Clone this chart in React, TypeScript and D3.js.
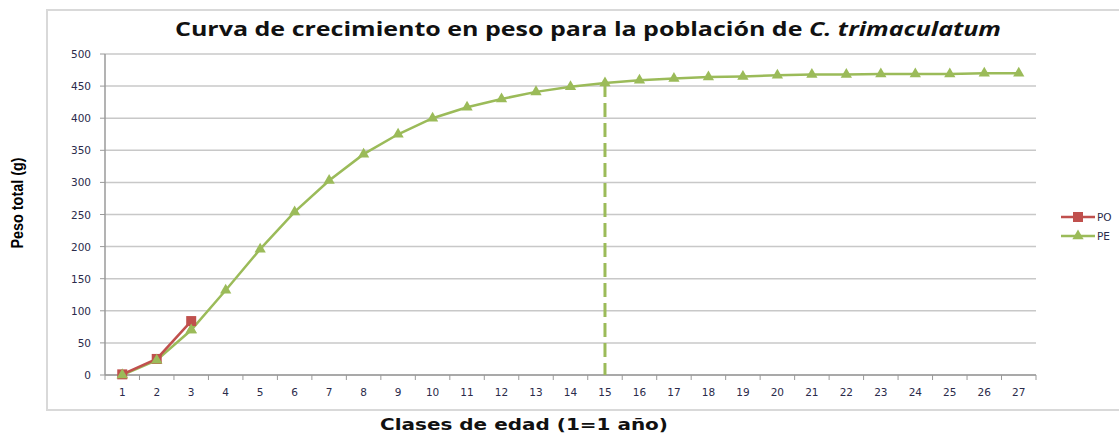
import React from "react";
import * as d3 from "d3";

const categories: number[] = Array.from({ length: 27 }, (_, i) => i + 1);
const poValues: number[] = [1, 25, 84];
const peValues: number[] = [0, 23, 70, 132, 196, 254, 303, 344, 375, 400, 417, 430, 441, 449, 455, 459, 462, 464, 465, 467, 468, 468, 469, 469, 469, 470, 470];
const yTicks: number[] = [0, 50, 100, 150, 200, 250, 300, 350, 400, 450, 500];
const markerCategory = 15;
const seriesNames = ["PO", "PE"];

const W = 1119, H = 434;
const plot = { left: 105, right: 1036, top: 54, bottom: 375 };
const RED = "#C0504D";
const GREEN = "#9BBB59";

export default function App() {
  const x = d3.scaleBand<number>().domain(categories).range([plot.left, plot.right]).padding(0);
  const cx = (c: number) => (x(c) as number) + x.bandwidth() / 2;
  const y = d3.scaleLinear().domain([0, 500]).range([plot.bottom, plot.top]);
  const line = d3.line<number>().x((_, i) => cx(categories[i])).y((d) => y(d));
  const tri = d3.symbol().type(d3.symbolTriangle).size(55)() as string;
  const tickFont = "'DejaVu Sans', sans-serif";
  const peAt15 = peValues[categories.indexOf(markerCategory)];

  return (
    <svg width={W} height={H} style={{ position: "absolute", left: 0, top: 0, background: "#fff" }}>
      <rect x={0} y={0} width={W} height={H} fill="#fff" />
      <path d={`M${W + 2},10 H47 V410 H${W + 2}`} fill="none" stroke="#D9D9D9" strokeWidth={2} />
      <text x={588} y={36} textAnchor="middle" fontFamily="'Open Sans', sans-serif" fontWeight="bold" fontSize={19} textLength={826} lengthAdjust="spacingAndGlyphs" fill="#111">
        Curva de crecimiento en peso para la población de <tspan fontStyle="italic">C. trimaculatum</tspan>
      </text>
      {yTicks.map((t) => (
        <line key={t} x1={plot.left} x2={plot.right} y1={y(t)} y2={y(t)} stroke="#C8C8C8" strokeWidth={1.5} />
      ))}
      <line x1={plot.left} x2={plot.left} y1={plot.top} y2={plot.bottom} stroke="#9A9A9A" strokeWidth={1.5} />
      {yTicks.map((t) => (
        <g key={t}>
          <line x1={plot.left - 5} x2={plot.left} y1={y(t)} y2={y(t)} stroke="#9A9A9A" />
          <text x={91} y={y(t) + 4} textAnchor="end" fontFamily={tickFont} fontSize={10.5} fill="#2B2B4B">{t}</text>
        </g>
      ))}
      <line x1={plot.left} x2={plot.right} y1={plot.bottom} y2={plot.bottom} stroke="#9A9A9A" strokeWidth={1.5} />
      {categories.map((c) => (
        <line key={"t" + c} x1={(x(c) as number) + x.bandwidth()} x2={(x(c) as number) + x.bandwidth()} y1={plot.bottom} y2={plot.bottom + 5} stroke="#9A9A9A" />
      ))}
      <line x1={plot.left} x2={plot.left} y1={plot.bottom} y2={plot.bottom + 5} stroke="#9A9A9A" />
      {categories.map((c) => (
        <text key={"l" + c} x={cx(c)} y={396} textAnchor="middle" fontFamily={tickFont} fontSize={10.5} fill="#2B2B4B">{c}</text>
      ))}
      <text transform="translate(23,203) rotate(-90)" textAnchor="middle" fontFamily="'Liberation Sans', Arial, sans-serif" fontWeight="bold" fontSize={17} textLength={91} lengthAdjust="spacingAndGlyphs" fill="#000">Peso total (g)</text>
      <text x={524} y={430} textAnchor="middle" fontFamily="'DejaVu Sans', sans-serif" fontWeight="bold" fontSize={15.5} textLength={288} lengthAdjust="spacingAndGlyphs" fill="#111">Clases de edad (1=1 año)</text>
      <line x1={cx(markerCategory)} x2={cx(markerCategory)} y1={y(peAt15)} y2={plot.bottom} stroke={GREEN} strokeWidth={3} strokeDasharray="14,6" />
      <path d={line(peValues) as string} fill="none" stroke={GREEN} strokeWidth={2.5} />
      {peValues.map((v, i) => (
        <path key={"pe" + i} d={tri} transform={`translate(${cx(categories[i])},${y(v)})`} fill={GREEN} />
      ))}
      <path d={line(poValues) as string} fill="none" stroke={RED} strokeWidth={2.5} />
      {poValues.map((v, i) => (
        <rect key={"po" + i} x={cx(categories[i]) - 5} y={y(v) - 5} width={10} height={10} fill={RED} />
      ))}
      {peValues.slice(0, 3).map((v, i) => (
        <path key={"pe2" + i} d={tri} transform={`translate(${cx(categories[i])},${y(v)})`} fill={GREEN} />
      ))}
      {seriesNames.map((n, i) => {
        const ly = 217 + i * 19;
        const col = i === 0 ? RED : GREEN;
        return (
          <g key={n}>
            <line x1={1061} x2={1095} y1={ly} y2={ly} stroke={col} strokeWidth={2.5} />
            {i === 0 ? (
              <rect x={1073} y={ly - 5} width={10} height={10} fill={col} />
            ) : (
              <path d={tri} transform={`translate(1078,${ly})`} fill={col} />
            )}
            <text x={1097} y={ly + 4} fontFamily={tickFont} fontSize={10.5} fill="#2B2B4B">{n}</text>
          </g>
        );
      })}
    </svg>
  );
}
